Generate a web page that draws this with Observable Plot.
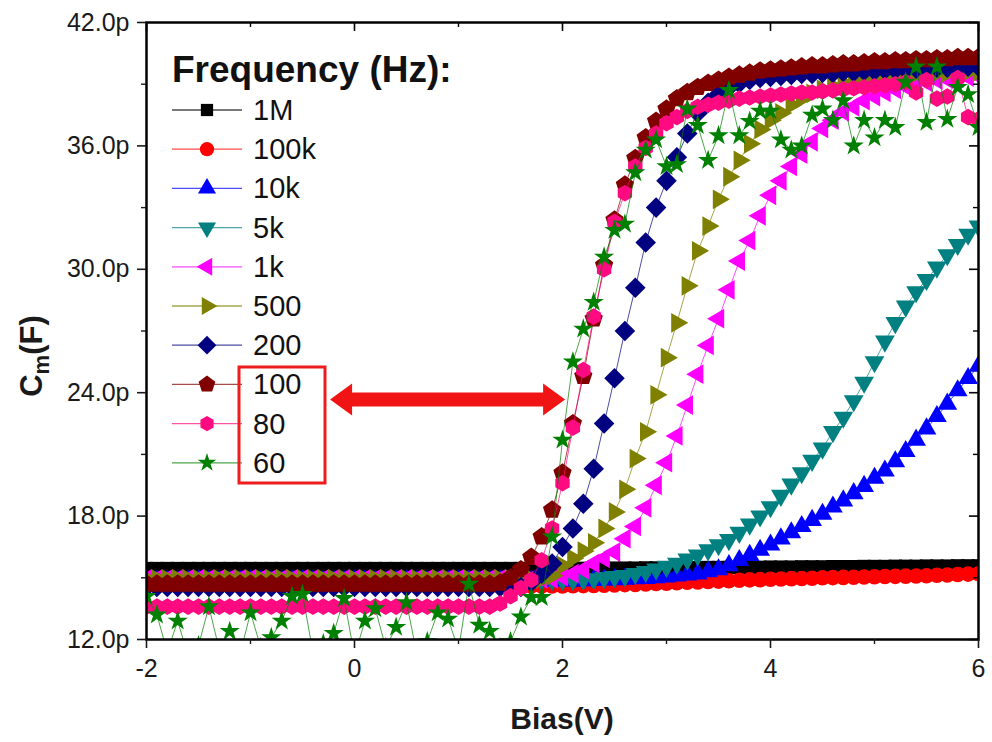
<!DOCTYPE html>
<html><head><meta charset="utf-8">
<script src="https://cdn.jsdelivr.net/npm/d3@7"></script>
<script src="https://cdn.jsdelivr.net/npm/@observablehq/plot@0.6"></script>
<style>
body{margin:0;background:#fff;}
#chart{position:relative;width:992px;height:742px;overflow:hidden;}
</style></head><body><div id="chart"></div>
<script>
// ---------- data (capacitance in pF, bias in V) ----------
const bias = [-2,-1.9,-1.8,-1.7,-1.6,-1.5,-1.4,-1.3,-1.2,-1.1,
  -1,-0.9,-0.8,-0.7,-0.6,-0.5,-0.4,-0.3,-0.2,-0.1,
  0,0.1,0.2,0.3,0.4,0.5,0.6,0.7,0.8,0.9,
  1,1.1,1.2,1.3,1.4,1.5,1.6,1.7,1.8,1.9,
  2,2.1,2.2,2.3,2.4,2.5,2.6,2.7,2.8,2.9,
  3,3.1,3.2,3.3,3.4,3.5,3.6,3.7,3.8,3.9,
  4,4.1,4.2,4.3,4.4,4.5,4.6,4.7,4.8,4.9,
  5,5.1,5.2,5.3,5.4,5.5,5.6,5.7,5.8,5.9,
  6];
const c1M = [15.45,15.45,15.45,15.45,15.45,15.45,15.45,15.45,15.45,15.45,
  15.45,15.45,15.45,15.45,15.45,15.45,15.45,15.45,15.45,15.45,
  15.45,15.45,15.45,15.45,15.45,15.45,15.45,15.45,15.45,15.45,
  15.45,15.45,15.45,15.45,15.45,15.45,15.45,15.45,15.45,15.45,
  15.45,15.45,15.46,15.46,15.46,15.47,15.47,15.47,15.48,15.48,
  15.48,15.49,15.49,15.49,15.5,15.5,15.5,15.51,15.51,15.51,
  15.52,15.52,15.52,15.53,15.53,15.53,15.54,15.54,15.54,15.55,
  15.55,15.55,15.56,15.56,15.56,15.57,15.57,15.57,15.58,15.58,
  15.58];
const c100k = [14.6,14.6,14.6,14.6,14.6,14.6,14.6,14.6,14.6,14.6,
  14.6,14.6,14.6,14.6,14.6,14.6,14.6,14.6,14.6,14.6,
  14.6,14.6,14.6,14.6,14.6,14.6,14.6,14.6,14.6,14.6,
  14.6,14.6,14.6,14.6,14.6,14.6,14.6,14.6,14.6,14.6,
  14.6,14.61,14.62,14.63,14.64,14.65,14.67,14.68,14.7,14.72,
  14.74,14.76,14.78,14.8,14.82,14.84,14.86,14.88,14.9,14.91,
  14.93,14.94,14.96,14.97,14.98,15.0,15.01,15.02,15.03,15.04,
  15.05,15.06,15.07,15.08,15.09,15.1,15.12,15.14,15.16,15.18,
  15.2];
const c10k = [14.85,14.85,14.85,14.85,14.85,14.85,14.85,14.85,14.85,14.85,
  14.85,14.85,14.85,14.85,14.85,14.85,14.85,14.85,14.85,14.85,
  14.85,14.85,14.85,14.85,14.85,14.85,14.85,14.85,14.85,14.85,
  14.85,14.85,14.85,14.85,14.85,14.85,14.85,14.85,14.85,14.85,
  14.85,14.85,14.86,14.88,14.9,14.92,14.94,14.96,14.98,15.01,
  15.05,15.1,15.15,15.2,15.3,15.4,15.6,15.85,16.1,16.35,
  16.6,16.9,17.2,17.5,17.8,18.1,18.45,18.75,19.1,19.45,
  19.85,20.2,20.65,21.15,21.7,22.25,22.85,23.45,24.1,24.7,
  25.3];
const c5k = [14.9,14.9,14.9,14.9,14.9,14.9,14.9,14.9,14.9,14.9,
  14.9,14.9,14.9,14.9,14.9,14.9,14.9,14.9,14.9,14.9,
  14.9,14.9,14.9,14.9,14.9,14.9,14.9,14.9,14.9,14.9,
  14.9,14.9,14.9,14.9,14.9,14.9,14.9,14.9,14.9,14.9,
  14.9,14.9,14.92,14.95,15.0,15.05,15.1,15.2,15.3,15.42,
  15.55,15.7,15.9,16.1,16.35,16.6,16.85,17.2,17.6,18.0,
  18.45,19.0,19.55,20.1,20.7,21.3,22.1,22.8,23.6,24.5,
  25.5,26.5,27.4,28.2,28.9,29.5,30.1,30.7,31.2,31.7,
  32.1];
const c1k = [14.95,14.95,14.95,14.95,14.95,14.95,14.95,14.95,14.95,14.95,
  14.95,14.95,14.95,14.95,14.95,14.95,14.95,14.95,14.95,14.95,
  14.95,14.95,14.95,14.95,14.95,14.95,14.95,14.95,14.95,14.95,
  14.95,14.95,14.95,14.95,14.95,14.95,14.95,14.95,14.95,14.95,
  15.05,15.2,15.4,15.7,15.95,16.25,16.9,17.5,18.4,19.5,
  20.6,21.9,23.4,24.9,26.3,27.6,29.0,30.4,31.4,32.6,
  33.6,34.3,35.0,35.6,36.2,36.85,37.25,37.65,37.9,38.2,
  38.4,38.6,38.75,38.9,39.0,39.1,39.2,39.25,39.3,39.35,
  39.4];
const c500 = [14.95,14.95,14.95,14.95,14.95,14.95,14.95,14.95,14.95,14.95,
  14.95,14.95,14.95,14.95,14.95,14.95,14.95,14.95,14.95,14.95,
  14.95,14.95,14.95,14.95,14.95,14.95,14.95,14.95,14.95,14.95,
  14.95,14.95,14.95,14.95,14.95,14.95,14.95,14.95,14.95,15.1,
  15.6,15.95,16.3,16.7,17.4,18.2,19.3,20.8,22.1,23.9,
  25.7,27.4,29.2,30.9,32.1,33.4,34.5,35.3,36.1,36.8,
  37.25,37.6,38.0,38.3,38.55,38.75,38.9,39.05,39.15,39.25,
  39.3,39.35,39.4,39.45,39.5,39.5,39.55,39.55,39.6,39.6,
  39.6];
const c200 = [14.55,14.55,14.55,14.55,14.55,14.55,14.55,14.55,14.55,14.55,
  14.55,14.55,14.55,14.55,14.55,14.55,14.55,14.55,14.55,14.55,
  14.55,14.55,14.55,14.55,14.55,14.55,14.55,14.55,14.55,14.55,
  14.55,14.55,14.55,14.55,14.55,14.55,14.55,14.8,15.2,15.7,
  16.5,17.4,18.6,20.3,22.5,24.7,27.0,29.1,31.3,33.0,
  34.3,35.45,36.6,37.6,38.1,38.5,38.85,39.05,39.2,39.3,
  39.35,39.4,39.45,39.5,39.5,39.55,39.55,39.6,39.6,39.65,
  39.65,39.7,39.7,39.7,39.75,39.75,39.8,39.8,39.8,39.85,
  39.85];
const c100 = [14.7,14.7,14.7,14.7,14.7,14.7,14.7,14.7,14.7,14.7,
  14.7,14.7,14.7,14.7,14.7,14.7,14.7,14.7,14.7,14.7,
  14.7,14.7,14.7,14.7,14.7,14.7,14.7,14.7,14.7,14.7,
  14.7,14.7,14.7,14.7,14.75,15.0,15.4,16.0,17.0,18.3,
  20.1,22.5,24.8,27.6,30.2,32.4,34.1,35.4,36.4,37.2,
  37.8,38.3,38.6,38.85,39.05,39.2,39.35,39.45,39.55,39.65,
  39.7,39.75,39.8,39.85,39.9,39.9,39.95,40.0,40.0,40.05,
  40.1,40.1,40.15,40.15,40.2,40.2,40.25,40.25,40.3,40.3,
  40.3];
const c80 = [13.6,13.6,13.6,13.6,13.6,13.6,13.6,13.6,13.6,13.6,
  13.6,13.6,13.6,13.6,13.6,13.6,13.6,13.6,13.6,13.6,
  13.6,13.6,13.6,13.6,13.6,13.6,13.6,13.6,13.6,13.6,
  13.6,13.6,13.6,13.6,13.75,14.1,14.5,14.9,15.85,17.4,
  19.6,22.3,25.1,27.7,30.0,32.3,33.7,35.0,35.9,36.6,
  37.1,37.4,37.7,37.9,38.0,38.1,38.2,38.3,38.35,38.4,
  38.45,38.5,38.55,38.6,38.6,38.65,38.7,38.75,38.8,38.85,
  38.9,38.95,39.0,39.1,38.6,39.2,38.3,38.4,39.3,37.4,
  37.3];
const c60 = [14.1,13.2,11.4,12.9,11.2,11.7,13.6,11.5,12.4,11.3,
  13.3,11.6,12.1,12.9,14.1,14.2,11.4,11.8,12.3,14.0,
  11.2,12.9,13.5,11.6,12.6,13.8,11.3,11.9,13.3,13.0,
  11.5,14.7,12.7,12.4,11.6,11.9,13.1,14.05,14.05,17.0,
  21.7,25.5,27.1,28.4,30.6,31.9,32.2,34.7,35.8,36.3,
  35.0,35.1,37.8,37.0,35.3,36.5,38.7,36.5,37.2,37.7,
  37.7,36.3,35.8,36.0,37.5,37.8,37.25,38.2,36.0,37.25,
  36.4,37.25,36.9,39.1,39.85,37.15,39.85,37.3,38.85,38.5,
  36.9];

const seriesNames = ["1M","100k","10k","5k","1k","500","200","100","80","60"];
const seriesValues = [c1M,c100k,c10k,c5k,c1k,c500,c200,c100,c80,c60];
const seriesColors = ["#000000","#ff0000","#0000ff","#008080","#ff00ff","#808000","#000080","#800000","#ff0a80","#008000"];
const seriesShapes = ["square","circle","triangleUp","triangleDown","triangleLeft","triangleRight","diamond","pentagon","hexagon","star"];
const xTicks = [-2,0,2,4,6];
const xMinor = [-1,1,3,5];
const yTicks = [12,18,24,30,36,42];
const yMinor = [15,21,27,33,39];
const legendTitle = "Frequency (Hz):";
const xLabel = "Bias(V)";
// annotation: double arrow (bias range, capacitance level)
const arrowFrom = -0.23, arrowTo = 2.03, arrowLevel = 23.65;

// ---------- symbols ----------
const S3 = Math.sqrt(3);
function polySym(pointsFn){
  return {draw(ctx, size){ const pts = pointsFn(size); pts.forEach(([x,y],k)=> k ? ctx.lineTo(x,y) : ctx.moveTo(x,y)); ctx.closePath(); }};
}
function triSym(rot){
  return polySym(s=>{ const a = Math.sqrt(s*0.8/(S3*3)); const c=Math.cos(rot), sn=Math.sin(rot);
    return [[0,-2*a],[S3*a,a],[-S3*a,a]].map(([x,y])=>[x*c-y*sn, x*sn+y*c]); });
}
function ngon(n, areaK, f){
  return polySym(s=>{ const R = Math.sqrt(s/areaK)*f; const out=[];
    for(let k=0;k<n;k++){ const t=-Math.PI/2+2*Math.PI*k/n; out.push([R*Math.cos(t),R*Math.sin(t)]); } return out; });
}
const symbols = {
  square: {draw(c,s){const w=Math.sqrt(s)*0.92; c.rect(-w/2,-w/2,w,w);}},
  circle: {draw(c,s){const r=Math.sqrt(s/Math.PI)*0.95; c.moveTo(r,0); c.arc(0,0,r,0,2*Math.PI);}},
  triangleUp: triSym(0),
  triangleDown: triSym(Math.PI),
  triangleLeft: triSym(-Math.PI/2),
  triangleRight: triSym(Math.PI/2),
  diamond: ngon(4, 2, 1.0),
  pentagon: ngon(5, 2.378, 1.02),
  hexagon: ngon(6, 2.598, 0.92),
  star: {draw(c,s){ d3.symbolStar.draw(c, s*0.6); }}
};

// ---------- chart ----------
const W = 992, H = 742, mL = 146, mR = 14, mT = 22, mB = 103;
const innerW = W - mL - mR, innerH = H - mT - mB;
const R = 8.2;
const tables = seriesValues.map(vals => bias.map((x,i)=>({x, y: vals[i]})));

const seriesMarks = [];
tables.forEach((t,k)=>{
  seriesMarks.push(Plot.line(t, {x:"x", y:"y", stroke: seriesColors[k], strokeWidth: 1, strokeOpacity: 0.7, clip: true}));
  seriesMarks.push(Plot.dot(t, {x:"x", y:"y", fill: seriesColors[k], r: R, symbol: symbols[seriesShapes[k]], clip: true}));
});

const font = "'Liberation Sans', Arial, sans-serif";
const plot = Plot.plot({
  width: W, height: H,
  marginLeft: mL, marginRight: mR, marginTop: mT, marginBottom: mB,
  x: {domain: [-2, 6], label: null},
  y: {domain: [12, 42], label: null},
  style: {fontFamily: font, background: "#fff", color: "#1a1a1a"},
  marks: [
    ...seriesMarks,
    Plot.frame({stroke: "#000", strokeWidth: 2.5}),
    Plot.axisX({ticks: xTicks, tickSize: 9, tickPadding: 11, fontSize: 25, strokeWidth: 1.6, label: null, tickFormat: d => String(d)}),
    Plot.axisX({ticks: xMinor, tickSize: 5, fontSize: 1, strokeWidth: 1.4, label: null, tickFormat: () => ""}),
    Plot.axisY({ticks: yTicks, tickSize: 9, tickPadding: 8, fontSize: 25, strokeWidth: 1.6, label: null, tickFormat: d => d.toFixed(1) + "p"}),
    Plot.axisY({ticks: yMinor, tickSize: 5, fontSize: 1, strokeWidth: 1.4, label: null, tickFormat: () => ""}),
    Plot.ruleX(xTicks, {x: d => d, insetTop: 0, insetBottom: innerH - 9, stroke: "#000", strokeWidth: 1.6}),
    Plot.ruleX(xMinor, {x: d => d, insetTop: 0, insetBottom: innerH - 5, stroke: "#000", strokeWidth: 1.4}),
    Plot.ruleY(yTicks, {y: d => d, insetLeft: innerW - 9, insetRight: 0, stroke: "#000", strokeWidth: 1.6}),
    Plot.ruleY(yMinor, {y: d => d, insetLeft: innerW - 5, insetRight: 0, stroke: "#000", strokeWidth: 1.4})
  ]
});
document.getElementById("chart").appendChild(plot);

// ---------- overlay: labels, legend, annotations ----------
const svg = d3.select(plot);
const xs = plot.scale("x"), ys = plot.scale("y");

svg.append("text").attr("x", (mL + W - mR)/2).attr("y", 729)
  .attr("text-anchor","middle").attr("font-family", font).attr("font-size", 30)
  .attr("font-weight","bold").attr("fill","#1a1a1a").text(xLabel);

const yl = svg.append("text").attr("transform","translate(42,356) rotate(-90)")
  .attr("text-anchor","middle").attr("font-family", font).attr("font-size", 31)
  .attr("font-weight","bold").attr("fill","#1a1a1a");
yl.append("tspan").text("C");
yl.append("tspan").attr("font-size", 22).attr("dy", 7).text("m");
yl.append("tspan").attr("dy", -7).text("(F)");

// legend
const lg = svg.append("g").attr("text-anchor","start");
lg.append("text").attr("x", 172).attr("y", 82).attr("font-family", font).attr("text-anchor","start")
  .attr("font-size", 37).attr("font-weight","bold").attr("fill","#111").text(legendTitle);
seriesNames.forEach((name,k)=>{
  const yy = 110 + k*39.2;
  lg.append("line").attr("x1",172).attr("x2",242).attr("y1",yy).attr("y2",yy)
    .attr("stroke", seriesColors[k]).attr("stroke-width", 1.3).attr("stroke-opacity", 0.7);
  lg.append("path").attr("transform",`translate(207,${yy})`)
    .attr("d", d3.symbol(symbols[seriesShapes[k]], Math.PI*7.5*7.5)()).attr("fill", seriesColors[k]);
  lg.append("text").attr("x",253).attr("y",yy+10).attr("font-family", font).attr("text-anchor","start")
    .attr("font-size",29).attr("fill","#111").text(name);
});
// highlight box
lg.append("rect").attr("x",239).attr("y",367).attr("width",86).attr("height",116)
  .attr("fill","none").attr("stroke","#ee1c1c").attr("stroke-width",3);

// double arrow
const ax1 = xs.apply(arrowFrom), ax2 = xs.apply(arrowTo), ay = ys.apply(arrowLevel);
const hl = 22, hh = 16, sh = 7;
svg.append("path").attr("fill","#f01414").attr("d",
  `M${ax1},${ay} L${ax1+hl},${ay-hh} L${ax1+hl},${ay-sh} L${ax2-hl},${ay-sh} L${ax2-hl},${ay-hh} L${ax2},${ay} L${ax2-hl},${ay+hh} L${ax2-hl},${ay+sh} L${ax1+hl},${ay+sh} L${ax1+hl},${ay+hh} Z`);
</script></body></html>
